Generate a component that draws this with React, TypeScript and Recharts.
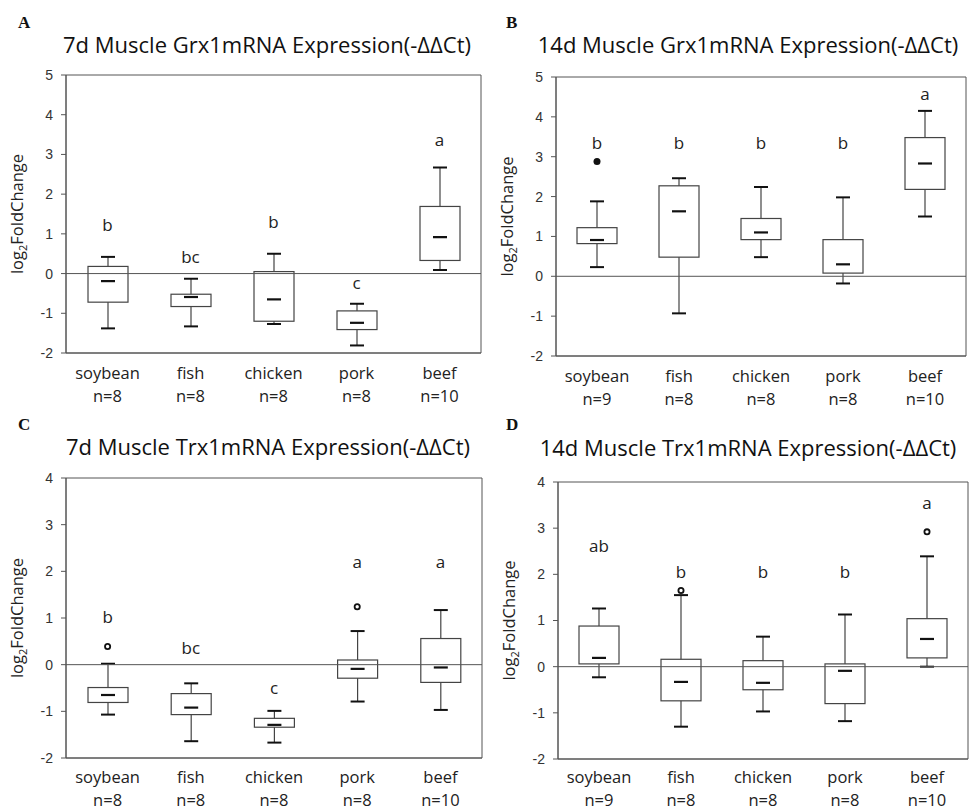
import React from "react";
import {
  Bar,
  ComposedChart,
  ReferenceArea,
  ReferenceLine,
  Scatter,
  XAxis,
  YAxis,
} from "recharts";

const categories = ["soybean", "fish", "chicken", "pork", "beef"];

// A: 7d Grx1
const grx7Low = [-1.38, -1.33, -1.27, -1.81, 0.09];
const grx7Q1 = [-0.72, -0.83, -1.2, -1.41, 0.33];
const grx7Median = [-0.19, -0.59, -0.65, -1.24, 0.92];
const grx7Q3 = [0.18, -0.52, 0.05, -0.94, 1.69];
const grx7High = [0.42, -0.13, 0.5, -0.76, 2.67];
const grx7Outlier: (number | null)[] = [null, null, null, null, null];
const grx7Letters = ["b", "bc", "b", "c", "a"];
const grx7LetterAt = [1.07, 0.27, 1.15, -0.39, 3.2];
const grx7N = [8, 8, 8, 8, 10];

// B: 14d Grx1
const grx14Low = [0.23, -0.93, 0.48, -0.18, 1.5];
const grx14Q1 = [0.82, 0.48, 0.92, 0.08, 2.18];
const grx14Median = [0.91, 1.63, 1.1, 0.3, 2.83];
const grx14Q3 = [1.22, 2.27, 1.45, 0.92, 3.48];
const grx14High = [1.88, 2.46, 2.24, 1.98, 4.15];
const grx14Outlier: (number | null)[] = [2.88, null, null, null, null];
const grx14Letters = ["b", "b", "b", "b", "a"];
const grx14LetterAt = [3.19, 3.19, 3.19, 3.19, 4.43];
const grx14N = [9, 8, 8, 8, 10];

// C: 7d Trx1
const trx7Low = [-1.07, -1.64, -1.67, -0.79, -0.97];
const trx7Q1 = [-0.81, -1.07, -1.34, -0.29, -0.38];
const trx7Median = [-0.65, -0.92, -1.29, -0.09, -0.06];
const trx7Q3 = [-0.49, -0.62, -1.15, 0.1, 0.56];
const trx7High = [0.02, -0.4, -0.99, 0.72, 1.17];
const trx7Outlier: (number | null)[] = [0.39, null, null, 1.24, null];
const trx7Letters = ["b", "bc", "c", "a", "a"];
const trx7LetterAt = [0.89, 0.23, -0.63, 2.07, 2.07];
const trx7N = [8, 8, 8, 8, 10];

// D: 14d Trx1
const trx14Low = [-0.23, -1.3, -0.97, -1.18, 0.0];
const trx14Q1 = [0.06, -0.74, -0.5, -0.8, 0.19];
const trx14Median = [0.19, -0.33, -0.35, -0.09, 0.6];
const trx14Q3 = [0.88, 0.16, 0.13, 0.06, 1.04];
const trx14High = [1.26, 1.55, 0.65, 1.13, 2.39];
const trx14Outlier: (number | null)[] = [null, 1.65, null, null, 2.92];
const trx14Letters = ["ab", "b", "b", "b", "a"];
const trx14LetterAt = [2.48, 1.91, 1.91, 1.91, 3.41];
const trx14N = [9, 8, 8, 8, 10];

const ticksA = [-2, -1, 0, 1, 2, 3, 4, 5];
const ticksC = [-2, -1, 0, 1, 2, 3, 4];

function buildRows(
  low: number[],
  q1: number[],
  median: number[],
  q3: number[],
  high: number[],
  outlier: (number | null)[],
  letters: string[],
  letterAt: number[],
  n: number[]
) {
  return categories.map((name, i) => ({
    name,
    n: n[i],
    range: [low[i], high[i]],
    low: low[i],
    q1: q1[i],
    median: median[i],
    q3: q3[i],
    high: high[i],
    outlier: outlier[i],
    letter: letters[i],
    letterAt: letterAt[i],
  }));
}

const FONT = "'Open Sans', sans-serif";

function BoxShape(props: any) {
  const { x, y, width, height, payload } = props;
  const top = Math.min(y, y + height);
  const bottom = Math.max(y, y + height);
  const span = payload.high - payload.low || 1;
  const toY = (v: number) =>
    top + ((payload.high - v) / span) * (bottom - top);
  const cx = x + width / 2;
  const cap = 7;
  const med = 7;
  return (
    <g>
      <line x1={cx} x2={cx} y1={toY(payload.high)} y2={toY(payload.low)} stroke="#444" strokeWidth={1.2} />
      <line x1={cx - cap} x2={cx + cap} y1={toY(payload.high)} y2={toY(payload.high)} stroke="#111" strokeWidth={2} />
      <line x1={cx - cap} x2={cx + cap} y1={toY(payload.low)} y2={toY(payload.low)} stroke="#111" strokeWidth={2} />
      <rect
        x={x}
        y={toY(payload.q3)}
        width={width}
        height={toY(payload.q1) - toY(payload.q3)}
        fill="#fff"
        stroke="#444"
        strokeWidth={1.2}
      />
      <line x1={cx - med} x2={cx + med} y1={toY(payload.median)} y2={toY(payload.median)} stroke="#111" strokeWidth={2.2} />
    </g>
  );
}

function OutlierShape(props: any) {
  const { cx, cy, payload, filled } = props;
  if (payload.outlier == null || cy == null || isNaN(cy)) return <g />;
  return filled ? (
    <circle cx={cx} cy={cy} r={3.5} fill="#111" />
  ) : (
    <circle cx={cx} cy={cy} r={2.6} fill="#fff" stroke="#111" strokeWidth={1.8} />
  );
}

function LetterShape(props: any) {
  const { cx, cy, payload } = props;
  return (
    <text x={cx} y={cy} textAnchor="middle" fontFamily={FONT} fontSize={17} fill="#222">
      {payload.letter}
    </text>
  );
}

function CategoryTick(props: any) {
  const { x, y, payload, index, rows, nameOffset, nOffset } = props;
  const row = rows[index];
  return (
    <g transform={`translate(${x},${y})`}>
      <text textAnchor="middle" fontFamily={FONT} fontSize={16.5} fill="#222">
        <tspan x={0} y={nameOffset}>{payload.value}</tspan>
        <tspan x={0} y={nOffset}>n={row ? row.n : ""}</tspan>
      </text>
    </g>
  );
}

function YLabel(props: any) {
  const { viewBox } = props;
  const lx = viewBox.x + viewBox.width - 43;
  const ly = viewBox.y + viewBox.height / 2;
  return (
    <text
      transform={`translate(${lx},${ly}) rotate(-90)`}
      textAnchor="middle"
      fontFamily={FONT}
      fontSize={16.5}
      fill="#222"
    >
      log
      <tspan fontSize={11} dy={4}>2</tspan>
      <tspan dy={-4}>FoldChange</tspan>
    </text>
  );
}

interface PanelProps {
  tag: string;
  tagLeft: number;
  title: string;
  titleX: number;
  titleBaseline: number;
  rows: ReturnType<typeof buildRows>;
  ticks: number[];
  left: number;
  top: number;
  plotLeft: number;
  plotTop: number;
  plotWidth: number;
  plotHeight: number;
  nameOffset?: number;
  nOffset?: number;
  filledOutlier?: boolean;
}

function Panel({
  tag,
  tagLeft,
  title,
  titleX,
  titleBaseline,
  rows,
  ticks,
  left,
  top,
  plotLeft,
  plotTop,
  plotWidth,
  plotHeight,
  nameOffset = 26,
  nOffset = 49,
  filledOutlier,
}: PanelProps) {
  const ml = 36;
  const yw = 30;
  const mt = plotTop - top;
  const chartLeft = plotLeft - left - ml - yw;
  const domain: [number, number] = [ticks[0], ticks[ticks.length - 1]];
  return (
    <div style={{ position: "absolute", left, top, width: 484, height: 405 }}>
      <div
        style={{
          position: "absolute",
          left: tagLeft,
          top: 13,
          fontFamily: "'Liberation Serif', serif",
          fontWeight: "bold",
          fontSize: 17,
          color: "#111",
        }}
      >
        {tag}
      </div>
      <div
        style={{
          position: "absolute",
          left: titleX - left - 250,
          width: 500,
          top: titleBaseline - top - 19.5,
          textAlign: "center",
          fontFamily: FONT,
          fontSize: 22,
          lineHeight: "22px",
          color: "#111",
          whiteSpace: "nowrap",
        }}
      >
        {title}
      </div>
      <div style={{ position: "absolute", left: chartLeft, top: 0 }}>
        <ComposedChart
          width={ml + yw + plotWidth + 4}
          height={mt + plotHeight + 60}
          data={rows}
          margin={{ top: mt, right: 4, bottom: 2, left: ml }}
          barCategoryGap={0}
        >
          <XAxis
            dataKey="name"
            type="category"
            height={58}
            tickLine={false}
            axisLine={{ stroke: "#555" }}
            tickSize={0}
            tickMargin={0}
            interval={0}
            tick={<CategoryTick rows={rows} nameOffset={nameOffset} nOffset={nOffset} />}
          />
          <YAxis
            type="number"
            domain={domain}
            ticks={ticks}
            width={yw}
            allowDataOverflow
            tickSize={5}
            tickMargin={8}
            axisLine={{ stroke: "#555" }}
            tickLine={{ stroke: "#555" }}
            tick={{ fontFamily: "'Liberation Sans', Arial, sans-serif", fontSize: 14, fill: "#333" }}
            label={<YLabel />}
          />
          <ReferenceArea
            y1={domain[0]}
            y2={domain[1]}
            fill="none"
            stroke="#555"
            strokeWidth={1}
          />
          <ReferenceLine y={0} stroke="#555" strokeWidth={1} />
          <Bar
            dataKey="range"
            barSize={40}
            shape={<BoxShape />}
            isAnimationActive={false}
          />
          <Scatter
            dataKey="outlier"
            shape={<OutlierShape filled={filledOutlier} />}
            isAnimationActive={false}
          />
          <Scatter
            dataKey="letterAt"
            shape={<LetterShape />}
            isAnimationActive={false}
          />
        </ComposedChart>
      </div>
    </div>
  );
}

export default function App() {
  const rowsA = buildRows(grx7Low, grx7Q1, grx7Median, grx7Q3, grx7High, grx7Outlier, grx7Letters, grx7LetterAt, grx7N);
  const rowsB = buildRows(grx14Low, grx14Q1, grx14Median, grx14Q3, grx14High, grx14Outlier, grx14Letters, grx14LetterAt, grx14N);
  const rowsC = buildRows(trx7Low, trx7Q1, trx7Median, trx7Q3, trx7High, trx7Outlier, trx7Letters, trx7LetterAt, trx7N);
  const rowsD = buildRows(trx14Low, trx14Q1, trx14Median, trx14Q3, trx14High, trx14Outlier, trx14Letters, trx14LetterAt, trx14N);
  return (
    <div
      style={{
        position: "absolute",
        left: 0,
        top: 0,
        width: 969,
        height: 811,
        background: "#fff",
        overflow: "hidden",
      }}
    >
      <Panel
        tag="A"
        tagLeft={18}
        title="7d Muscle Grx1mRNA Expression(-ΔΔCt)"
        titleX={267}
        titleBaseline={52}
        rows={rowsA}
        ticks={ticksA}
        left={0}
        top={0}
        plotLeft={66}
        plotTop={75}
        plotWidth={415}
        plotHeight={278}
      />
      <Panel
        tag="B"
        tagLeft={22}
        title="14d Muscle Grx1mRNA Expression(-ΔΔCt)"
        titleX={748}
        titleBaseline={52}
        rows={rowsB}
        ticks={ticksA}
        left={484}
        top={0}
        plotLeft={556}
        plotTop={77}
        plotWidth={410}
        plotHeight={279}
        filledOutlier
      />
      <Panel
        tag="C"
        tagLeft={18}
        title="7d Muscle Trx1mRNA Expression(-ΔΔCt)"
        titleX={268}
        titleBaseline={454}
        rows={rowsC}
        ticks={ticksC}
        left={0}
        top={402}
        plotLeft={66}
        plotTop={478}
        plotWidth={416}
        plotHeight={280}
        nameOffset={25}
        nOffset={48}
      />
      <Panel
        tag="D"
        tagLeft={22}
        title="14d Muscle Trx1mRNA Expression(-ΔΔCt)"
        titleX={748}
        titleBaseline={455}
        rows={rowsD}
        ticks={ticksC}
        left={484}
        top={402}
        plotLeft={558}
        plotTop={482}
        plotWidth={410}
        plotHeight={277}
        nameOffset={24}
        nOffset={47}
      />
    </div>
  );
}
